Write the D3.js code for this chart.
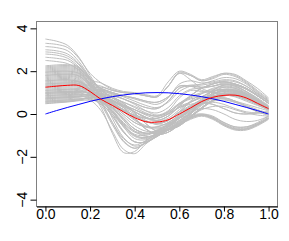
<!doctype html>
<html>
  <head>
    <meta charset="utf-8">
    <title>Functional curves</title>
    <script src="https://cdnjs.cloudflare.com/ajax/libs/d3/7.8.5/d3.min.js"></script>
    <style>
      body { margin: 0; background: #fff; }
      svg { display: block; }
      text { font-family: "Liberation Sans", Arial, sans-serif; font-size: 14px; fill: #000; }
    </style>
  </head>
  <body>
    <div id="chart"></div>
    <script>
      // grid the curves were read at
      const tGrid = [0, 0.05, 0.1, 0.15, 0.2, 0.25, 0.3, 0.35, 0.4, 0.45, 0.5,
                     0.55, 0.6, 0.65, 0.7, 0.75, 0.8, 0.85, 0.9, 0.95, 1];

      // gray sample curves (one row per curve)
      const grayCurves = [
        [3.5, 3.4, 3.2, 2.65, 1.8, 1.0, -0.2, -1.1, -1.5, -1.35, -1.05, -0.75, -0.4, 0.0, 0.45, 0.8, 1.0, 1.0, 0.85, 0.6, 0.3],
        [3.3, 3.25, 3.1, 2.6, 1.9, 1.45, 1.15, 1.0, 0.95, 0.85, 0.8, 1.3, 1.95, 1.8, 1.55, 1.65, 1.85, 1.75, 1.45, 1.05, 0.65],
        [3.15, 3.1, 2.95, 2.45, 1.7, 1.0, 0.55, 0.2, -0.1, -0.35, -0.45, -0.3, 0.05, 0.35, 0.6, 0.8, 0.9, 0.9, 0.75, 0.5, 0.25],
        [3.0, 2.95, 2.8, 2.35, 1.65, 0.8, 0.0, -0.8, -1.3, -1.3, -1.0, -0.7, -0.45, -0.2, -0.05, -0.2, -0.5, -0.7, -0.7, -0.5, -0.2],
        [2.9, 2.85, 2.7, 2.3, 1.7, 1.15, 0.75, 0.4, 0.1, -0.15, -0.3, -0.1, 0.4, 0.85, 1.2, 1.4, 1.5, 1.4, 1.2, 0.85, 0.5],
        [2.8, 2.75, 2.6, 2.2, 1.6, 0.75, 0.25, -0.25, -0.7, -0.9, -0.85, -0.6, -0.2, 0.2, 0.55, 0.8, 0.95, 0.95, 0.8, 0.55, 0.25],
        [2.65, 2.6, 2.5, 2.15, 1.65, 1.2, 0.95, 0.7, 0.5, 0.3, 0.25, 0.6, 1.2, 1.3, 1.25, 1.3, 1.4, 1.35, 1.15, 0.85, 0.5],
        [2.5, 2.45, 2.35, 2.05, 1.55, 0.85, 0.5, 0.2, -0.1, -0.35, -0.45, -0.3, 0.1, 0.55, 0.8, 1.05, 1.15, 1.1, 0.9, 0.6, 0.3],
        [2.2, 2.24, 2.26, 2.15, 1.6, 1.45, 1.2, 1.05, 1.0, 0.9, 0.85, 1.5, 2.0, 1.85, 1.6, 1.75, 1.9, 1.85, 1.55, 1.2, 0.75],
        [2.15, 2.19, 2.21, 2.1, 1.5, 0.6, -0.4, -1.25, -1.6, -1.35, -1.05, -0.75, -0.5, -0.1, 0.3, 0.65, 0.85, 0.85, 0.7, 0.45, 0.2],
        [2.1, 2.14, 2.16, 2.05, 1.45, 0.9, 0.5, 0.2, -0.1, -0.35, -0.45, -0.3, 0.1, 0.55, 0.8, 1.05, 1.15, 1.1, 0.9, 0.6, 0.3],
        [2.0, 2.04, 2.06, 1.95, 1.4, 1.0, 0.8, 0.5, 0.05, -0.45, -0.8, -0.75, -0.55, -0.2, -0.05, -0.2, -0.5, -0.7, -0.7, -0.5, -0.2],
        [1.95, 1.99, 2.01, 1.9, 1.45, 1.3, 1.1, 1.0, 0.95, 0.85, 0.8, 1.3, 1.9, 1.6, 1.2, 1.0, 0.9, 0.8, 0.6, 0.4, 0.2],
        [1.85, 1.89, 1.91, 1.8, 1.3, 0.65, 0.15, -0.5, -1.0, -1.1, -0.9, -0.6, -0.3, 0.05, 0.55, 1.0, 1.25, 1.2, 0.95, 0.65, 0.3],
        [1.8, 1.84, 1.86, 1.75, 1.3, 0.9, 0.6, 0.35, 0.1, -0.15, -0.3, -0.1, 0.35, 0.85, 1.2, 1.4, 1.5, 1.4, 1.2, 0.85, 0.5],
        [1.7, 1.74, 1.76, 1.65, 1.05, 0.3, -0.9, -1.8, -1.75, -1.25, -0.95, -0.75, -0.55, -0.15, 0.25, 0.6, 0.75, 0.6, 0.35, 0.1, -0.05],
        [1.6, 1.64, 1.66, 1.55, 1.2, 0.7, 0.4, 0.0, -0.4, -0.6, -0.6, -0.4, -0.05, 0.3, 0.6, 0.8, 0.9, 0.9, 0.75, 0.5, 0.25],
        [1.55, 1.59, 1.61, 1.5, 1.3, 1.2, 1.0, 0.85, 0.75, 0.6, 0.55, 0.8, 1.3, 1.3, 1.25, 1.3, 1.4, 1.35, 1.15, 0.85, 0.5],
        [1.45, 1.49, 1.51, 1.49, 1.15, 0.85, 0.65, 0.3, -0.2, -0.7, -0.95, -0.85, -0.5, -0.15, 0.0, -0.1, -0.4, -0.6, -0.6, -0.4, -0.1],
        [1.4, 1.44, 1.46, 1.44, 1.1, 0.8, 0.6, 0.4, 0.2, 0.0, -0.1, 0.1, 0.5, 0.75, 0.95, 1.1, 1.15, 1.05, 0.85, 0.55, 0.25],
        [1.3, 1.34, 1.36, 1.34, 1.0, 0.55, -0.1, -0.85, -1.3, -1.3, -1.0, -0.7, -0.45, 0.0, 0.6, 1.1, 1.35, 1.3, 1.05, 0.7, 0.35],
        [1.25, 1.29, 1.31, 1.29, 1.05, 0.75, 0.45, 0.15, -0.05, -0.2, -0.2, 0.0, 0.3, 0.55, 0.75, 0.85, 0.9, 0.85, 0.7, 0.5, 0.25],
        [1.15, 1.19, 1.21, 1.19, 1.1, 1.1, 0.9, 0.7, 0.5, 0.3, 0.25, 0.6, 1.2, 1.35, 1.35, 1.45, 1.55, 1.5, 1.3, 0.95, 0.6],
        [1.1, 1.14, 1.16, 1.14, 0.9, 0.4, -0.5, -1.3, -1.6, -1.35, -1.05, -0.75, -0.5, -0.25, -0.1, -0.25, -0.55, -0.75, -0.75, -0.55, -0.25],
        [1.0, 1.04, 1.06, 1.04, 0.95, 0.8, 0.5, 0.2, -0.1, -0.35, -0.45, -0.3, 0.1, 0.4, 0.65, 0.85, 0.95, 0.95, 0.8, 0.55, 0.3],
        [0.95, 0.99, 1.01, 0.99, 0.85, 0.6, 0.3, -0.2, -0.7, -0.9, -0.85, -0.6, -0.2, 0.15, 0.5, 0.75, 0.9, 0.9, 0.75, 0.5, 0.2],
        [0.9, 0.94, 0.96, 0.98, 1.2, 1.25, 1.1, 1.0, 0.95, 0.85, 0.8, 1.3, 1.9, 1.8, 1.55, 1.7, 1.9, 1.8, 1.5, 1.1, 0.7],
        [0.85, 0.89, 0.91, 0.93, 0.85, 0.7, 0.4, 0.0, -0.4, -0.6, -0.6, -0.4, -0.05, 0.35, 0.5, 0.45, 0.25, 0.05, 0.0, 0.05, 0.1],
        [0.8, 0.84, 0.86, 0.88, 0.9, 0.95, 0.8, 0.5, 0.05, -0.45, -0.8, -0.75, -0.55, -0.15, 0.25, 0.6, 0.75, 0.6, 0.35, 0.1, -0.05],
        [0.75, 0.79, 0.81, 0.83, 0.75, 0.5, -0.1, -0.85, -1.3, -1.3, -1.0, -0.7, -0.45, -0.1, 0.3, 0.65, 0.85, 0.85, 0.7, 0.45, 0.2],
        [0.7, 0.74, 0.76, 0.8, 0.85, 0.85, 0.6, 0.35, 0.1, -0.15, -0.3, -0.1, 0.35, 0.55, 0.8, 1.05, 1.15, 1.1, 0.9, 0.6, 0.3],
        [0.65, 0.69, 0.71, 0.75, 0.65, 0.15, -0.8, -1.65, -1.85, -1.4, -1.0, -0.75, -0.55, 0.0, 0.6, 1.1, 1.35, 1.3, 1.05, 0.7, 0.35],
        [0.6, 0.64, 0.66, 0.7, 0.75, 0.75, 0.6, 0.4, 0.2, 0.0, -0.1, 0.1, 0.5, 0.85, 1.2, 1.4, 1.5, 1.4, 1.2, 0.85, 0.5],
        [0.55, 0.59, 0.61, 0.65, 0.75, 0.8, 0.65, 0.3, -0.2, -0.7, -0.95, -0.85, -0.5, -0.2, -0.05, -0.2, -0.5, -0.7, -0.7, -0.5, -0.2],
        [0.5, 0.54, 0.58, 0.65, 0.85, 1.1, 1.0, 0.85, 0.75, 0.6, 0.55, 0.8, 1.3, 1.3, 1.1, 1.0, 0.95, 0.85, 0.65, 0.45, 0.2],
        [0.48, 0.52, 0.56, 0.62, 0.65, 0.55, 0.15, -0.5, -1.0, -1.1, -0.9, -0.6, -0.3, 0.1, 0.5, 0.75, 0.9, 0.9, 0.75, 0.5, 0.25],
        [1.9, 1.94, 1.96, 1.85, 1.35, 0.85, 0.45, 0.15, -0.05, -0.2, -0.2, 0.0, 0.3, 0.45, 0.55, 0.45, 0.25, 0.05, 0.0, 0.05, 0.1],
        [1.35, 1.39, 1.41, 1.39, 1.05, 0.6, 0.3, -0.2, -0.7, -0.9, -0.85, -0.6, -0.2, -0.05, 0.0, -0.15, -0.45, -0.65, -0.65, -0.45, -0.15],
        [1.05, 1.09, 1.11, 1.09, 0.95, 0.85, 0.65, 0.3, -0.2, -0.7, -0.95, -0.85, -0.5, -0.1, 0.3, 0.65, 0.85, 0.85, 0.7, 0.45, 0.2],
        [0.7, 0.74, 0.76, 0.8, 0.85, 0.8, 0.5, 0.2, -0.1, -0.35, -0.45, -0.3, 0.1, 0.3, 0.55, 0.7, 0.7, 0.55, 0.35, 0.15, 0.0],
        [2.05, 2.09, 2.11, 2.0, 1.4, 0.75, 0.1, -0.6, -1.15, -1.2, -0.95, -0.65, -0.35, 0.0, 0.4, 0.75, 0.95, 0.95, 0.8, 0.55, 0.25],
        [1.75, 1.79, 1.81, 1.7, 1.25, 0.95, 0.75, 0.55, 0.35, 0.15, 0.05, 0.3, 0.85, 1.15, 1.2, 1.3, 1.45, 1.4, 1.2, 0.9, 0.55],
        [1.65, 1.69, 1.71, 1.6, 1.15, 0.6, 0.1, -0.45, -0.85, -0.95, -0.8, -0.5, -0.1, 0.25, 0.5, 0.55, 0.45, 0.25, 0.1, 0.05, 0.05],
        [1.5, 1.54, 1.56, 1.5, 1.15, 0.75, 0.35, -0.1, -0.55, -0.8, -0.8, -0.55, -0.15, 0.25, 0.65, 0.95, 1.1, 1.1, 0.95, 0.65, 0.3],
        [1.2, 1.24, 1.26, 1.24, 1.05, 0.8, 0.55, 0.3, 0.0, -0.3, -0.5, -0.45, -0.15, 0.2, 0.55, 0.8, 0.95, 0.95, 0.8, 0.55, 0.3],
        [0.95, 0.98, 1.0, 1.02, 1.1, 1.15, 1.0, 0.85, 0.7, 0.55, 0.45, 0.75, 1.4, 1.55, 1.45, 1.5, 1.6, 1.55, 1.3, 0.95, 0.6],
        [0.6, 0.63, 0.66, 0.7, 0.7, 0.45, 0.0, -0.6, -1.05, -1.15, -0.95, -0.7, -0.4, -0.15, -0.05, -0.15, -0.4, -0.6, -0.6, -0.45, -0.2],
        [1.8, 1.84, 1.86, 1.78, 1.35, 1.05, 0.85, 0.7, 0.45, 0.15, -0.05, 0.15, 0.75, 1.1, 1.05, 1.0, 1.05, 1.05, 0.9, 0.65, 0.35],
        [1.1, 1.13, 1.15, 1.13, 0.95, 0.6, 0.1, -0.55, -0.95, -1.0, -0.8, -0.5, -0.15, 0.2, 0.45, 0.6, 0.65, 0.55, 0.4, 0.2, 0.05],
        [0.85, 0.88, 0.9, 0.92, 0.9, 0.85, 0.65, 0.4, 0.1, -0.2, -0.35, -0.2, 0.2, 0.6, 0.95, 1.2, 1.3, 1.25, 1.05, 0.75, 0.4],
        [2.25, 2.29, 2.3, 2.2, 1.65, 1.1, 0.75, 0.45, 0.2, -0.05, -0.2, 0.0, 0.45, 0.7, 0.8, 0.8, 0.75, 0.6, 0.45, 0.3, 0.15],
        [1.4, 1.43, 1.45, 1.42, 1.1, 0.5, -0.4, -1.15, -1.45, -1.25, -0.95, -0.7, -0.45, -0.1, 0.2, 0.35, 0.35, 0.2, 0.05, -0.05, -0.1],
        [0.75, 0.78, 0.8, 0.84, 0.95, 1.05, 0.95, 0.8, 0.6, 0.4, 0.3, 0.55, 1.05, 1.3, 1.4, 1.55, 1.7, 1.65, 1.4, 1.0, 0.6],
        [1.55, 1.58, 1.6, 1.52, 1.15, 0.8, 0.5, 0.15, -0.25, -0.55, -0.65, -0.5, -0.2, 0.1, 0.25, 0.2, 0.0, -0.25, -0.35, -0.3, -0.1],
        [0.55, 0.58, 0.6, 0.66, 0.75, 0.7, 0.45, 0.1, -0.3, -0.6, -0.7, -0.55, -0.2, 0.2, 0.6, 0.9, 1.05, 1.0, 0.85, 0.55, 0.25],
        [1.95, 1.99, 2.0, 1.9, 1.4, 0.85, 0.3, -0.3, -0.8, -1.05, -0.95, -0.7, -0.35, 0.05, 0.5, 0.9, 1.15, 1.15, 0.95, 0.65, 0.3],
        [1.0, 1.03, 1.05, 1.05, 1.0, 0.9, 0.75, 0.55, 0.3, 0.05, -0.1, 0.05, 0.45, 0.8, 1.0, 1.15, 1.25, 1.2, 1.0, 0.7, 0.35],
        [1.3, 1.33, 1.35, 1.33, 1.1, 0.75, 0.2, -0.4, -0.8, -0.9, -0.75, -0.45, -0.05, 0.35, 0.7, 0.95, 1.1, 1.05, 0.85, 0.55, 0.2]
      ];

      // red mean curve and blue curve
      const meanCurve = [1.25, 1.3, 1.34, 1.33, 1.05, 0.68, 0.4, 0.1, -0.17, -0.36, -0.38,
                         -0.27, 0.0, 0.28, 0.58, 0.78, 0.87, 0.88, 0.75, 0.5, 0.25];
      const blueCurve = [0, 0.16, 0.31, 0.45, 0.59, 0.71, 0.81, 0.89, 0.95, 0.99, 1.0,
                         0.99, 0.95, 0.89, 0.81, 0.71, 0.59, 0.45, 0.31, 0.16, 0];

      const xTicks = [0, 0.2, 0.4, 0.6, 0.8, 1.0];
      const xTickLabels = ['0.0', '0.2', '0.4', '0.6', '0.8', '1.0'];
      const yTicks = [-4, -2, 0, 2, 4];
      const yTickLabels = ['\u22124', '\u22122', '0', '2', '4'];

      const width = 289, height = 241;
      const box = { left: 36.5, right: 277.5, top: 21.5, bottom: 206.5 };

      // R style axes: 4% padding around the data range
      const x = d3.scaleLinear().domain([-0.04, 1.04]).range([box.left, box.right]);
      const y = d3.scaleLinear().domain([-4.32, 4.32]).range([box.bottom, box.top]);

      const svg = d3.select('#chart').append('svg')
        .attr('width', width)
        .attr('height', height);

      svg.append('clipPath').attr('id', 'plot-clip')
        .append('rect')
        .attr('x', box.left).attr('y', box.top)
        .attr('width', box.right - box.left).attr('height', box.bottom - box.top);

      const line = d3.line()
        .x((d, i) => x(tGrid[i]))
        .y(d => y(d))
        .curve(d3.curveCatmullRom.alpha(0.5));

      const plot = svg.append('g').attr('clip-path', 'url(#plot-clip)');

      plot.selectAll('path.gray')
        .data(grayCurves)
        .join('path')
        .attr('class', 'gray')
        .attr('d', line)
        .attr('fill', 'none')
        .attr('stroke', '#bebebe')
        .attr('stroke-width', 1);

      plot.append('path')
        .attr('d', line(blueCurve))
        .attr('fill', 'none')
        .attr('stroke', '#0000ff')
        .attr('stroke-width', 1);

      plot.append('path')
        .attr('d', line(meanCurve))
        .attr('fill', 'none')
        .attr('stroke', '#ff0000')
        .attr('stroke-width', 1);

      // box
      svg.append('rect')
        .attr('x', box.left).attr('y', box.top)
        .attr('width', box.right - box.left).attr('height', box.bottom - box.top)
        .attr('fill', 'none')
        .attr('stroke', '#808080');

      // x axis
      const xAxis = d3.axisBottom(x)
        .tickValues(xTicks)
        .tickFormat((d, i) => xTickLabels[i])
        .tickSize(5)
        .tickSizeOuter(0)
        .tickPadding(-2.5);

      const gx = svg.append('g')
        .attr('transform', `translate(0,${box.bottom})`)
        .call(xAxis);
      gx.selectAll('text').style('font-size', '14px').attr('fill', '#000');
      gx.select('.domain').attr('stroke', '#000');

      // y axis
      const yAxis = d3.axisLeft(y)
        .tickValues(yTicks)
        .tickFormat('')
        .tickSize(6)
        .tickSizeOuter(0);

      const gy = svg.append('g')
        .attr('transform', `translate(${box.left},0)`)
        .call(yAxis);
      gy.select('.domain').remove();

      svg.append('g').selectAll('text')
        .data(yTicks)
        .join('text')
        .attr('transform', d => `translate(26.5,${y(d)}) rotate(-90)`)
        .attr('text-anchor', 'middle')
        .text((d, i) => yTickLabels[i]);
    </script>
  </body>
</html>
